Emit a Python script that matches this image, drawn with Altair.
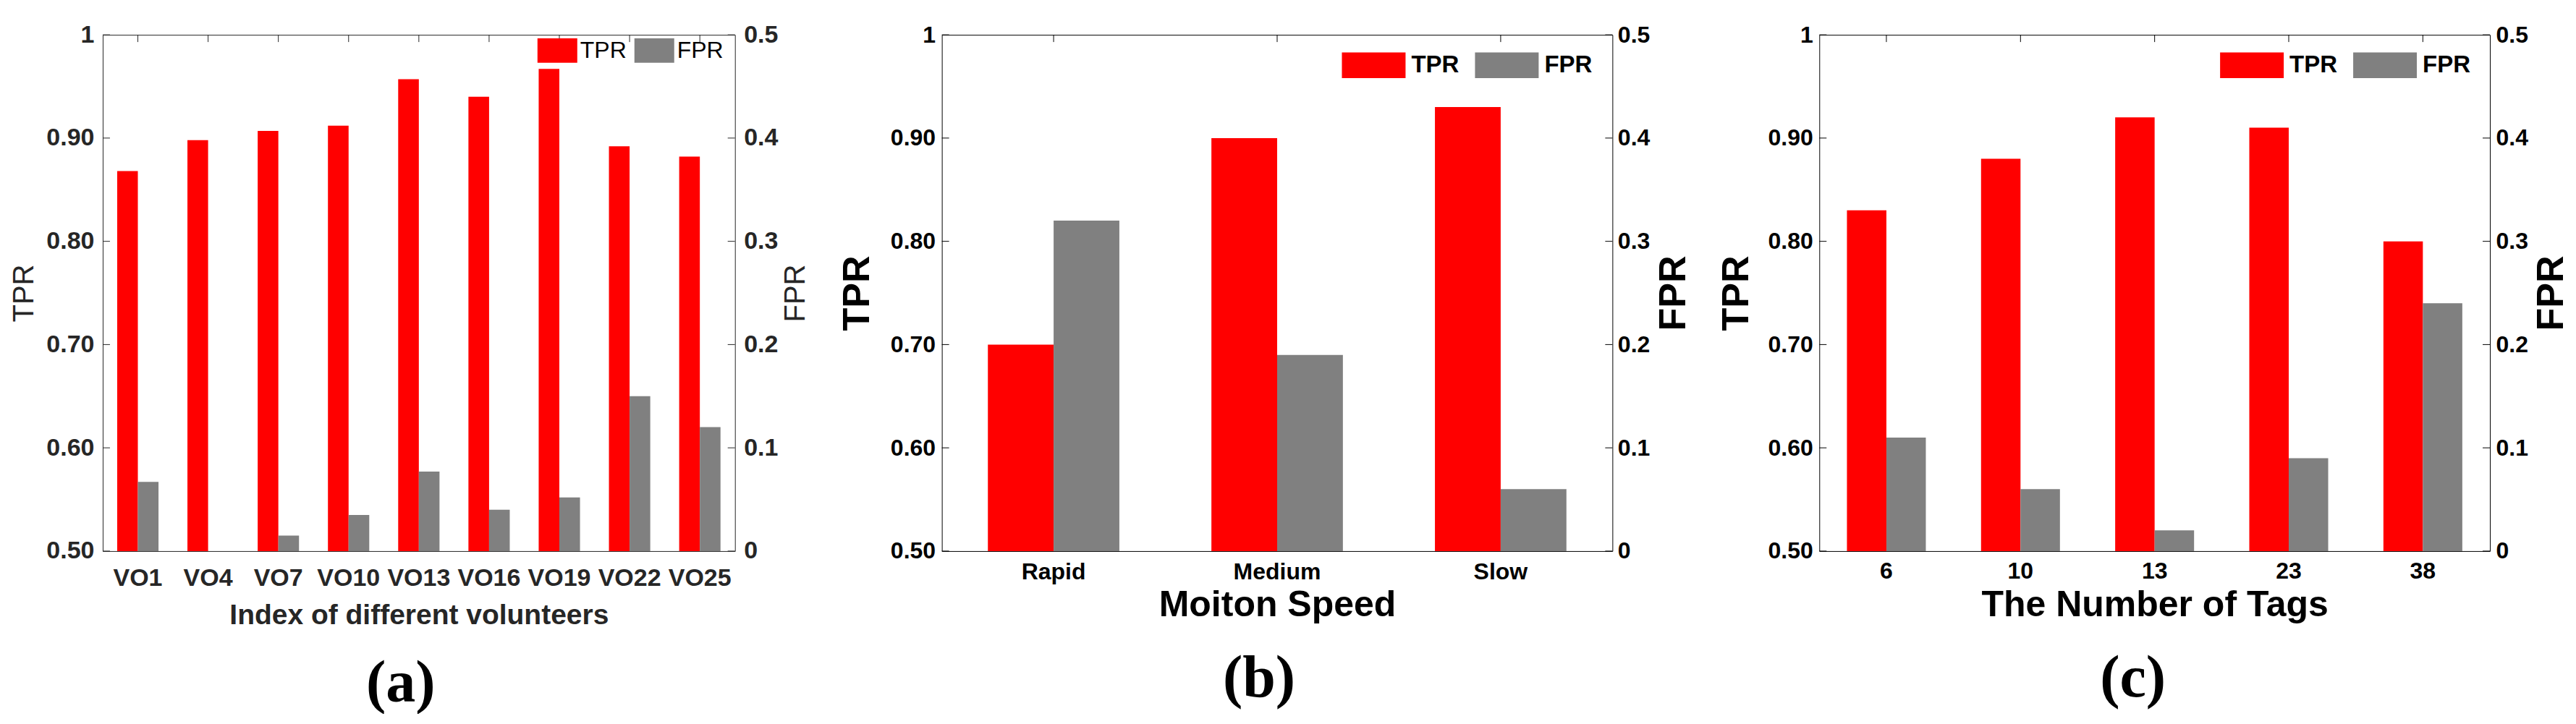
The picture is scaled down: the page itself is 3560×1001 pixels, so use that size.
import altair as alt
import pandas as pd

# ---------------- data ----------------
a_categories = ["VO1", "VO4", "VO7", "VO10", "VO13", "VO16", "VO19", "VO22", "VO25"]
a_tpr = [0.868, 0.898, 0.907, 0.912, 0.957, 0.940, 0.967, 0.892, 0.882]
a_fpr = [0.067, 0.0, 0.015, 0.035, 0.077, 0.040, 0.052, 0.150, 0.120]

b_categories = ["Rapid", "Medium", "Slow"]
b_tpr = [0.70, 0.90, 0.93]
b_fpr = [0.32, 0.19, 0.06]

c_categories = ["6", "10", "13", "23", "38"]
c_tpr = [0.83, 0.88, 0.92, 0.91, 0.80]
c_fpr = [0.11, 0.06, 0.02, 0.09, 0.24]

series_names = ["TPR", "FPR"]
series_colors = ["#FF0000", "#808080"]
tpr_ticks = [0.5, 0.6, 0.7, 0.8, 0.9, 1.0]
fpr_ticks = [0.0, 0.1, 0.2, 0.3, 0.4, 0.5]

FONT = "Liberation Sans"
SERIF = "Liberation Serif"
H = 714
TICK = 10


def make_panel(cats, tpr, fpr, st):
    W = st["width"]
    ink = st["ink"]
    tpr_df = pd.DataFrame({"cat": cats, "value": tpr, "series": ["TPR"] * len(cats)})
    fpr_df = pd.DataFrame({"cat": cats, "value": fpr, "series": ["FPR"] * len(cats)})

    x_enc = alt.X(
        "cat:N", sort=cats,
        scale=alt.Scale(domain=cats, paddingInner=0, paddingOuter=0),
        axis=alt.Axis(
            title=st["xtitle"], labelAngle=0, ticks=False, domain=False, grid=False,
            labelFont=FONT, labelFontSize=st["tick_size"], labelFontWeight="bold",
            labelColor=ink, labelPadding=st["xlab_pad"], labelOverlap=False,
            titleFont=FONT, titleFontSize=st["xtitle_size"], titleFontWeight="bold",
            titleColor=ink, titlePadding=st["xtitle_pad"],
        ),
    )
    xoff = alt.XOffset(
        "series:N",
        scale=alt.Scale(domain=series_names, paddingInner=0, paddingOuter=0.7),
    )
    color = alt.Color(
        "series:N",
        scale=alt.Scale(domain=series_names, range=series_colors),
        legend=alt.Legend(
            title=None, orient="none", legendX=st["leg_x"], legendY=st["leg_y"],
            direction="horizontal", padding=0,
            symbolType=st["leg_path"], symbolSize=st["leg_size"],
            symbolStrokeWidth=0, symbolOpacity=1,
            labelFont=FONT, labelFontSize=st["leg_font"], labelFontWeight=st["leg_weight"],
            labelColor="black", labelOffset=st["leg_off"], columnPadding=st["leg_col"],
        ),
    )
    y_tpr = alt.Y(
        "value:Q",
        scale=alt.Scale(domain=[0.5, 1.0], zero=False, nice=False),
        axis=alt.Axis(
            orient="left", values=tpr_ticks, grid=False, ticks=False, domain=False,
            labelExpr="datum.value == 1 ? '1' : format(datum.value, '.2f')",
            labelFont=FONT, labelFontSize=st["tick_size"], labelFontWeight="bold",
            labelColor=ink, labelPadding=st["ylab_pad"], labelFlush=False, labelOverlap=False,
            title="TPR", titleFont=FONT, titleFontSize=st["ytitle_size"],
            titleFontWeight=st["ytitle_weight"], titleColor=ink, titlePadding=st["ltitle_pad"],
        ),
    )
    y_fpr = alt.Y(
        "value:Q",
        scale=alt.Scale(domain=[0.0, 0.5], nice=False),
        axis=alt.Axis(
            orient="right", values=fpr_ticks, grid=False, ticks=False, domain=False,
            labelExpr="format(datum.value, '.1~f')",
            labelFont=FONT, labelFontSize=st["tick_size"], labelFontWeight="bold",
            labelColor=ink, labelPadding=st["rlab_pad"], labelFlush=False, labelOverlap=False,
            title="FPR", titleFont=FONT, titleFontSize=st["ytitle_size"],
            titleFontWeight=st["ytitle_weight"], titleColor=ink, titlePadding=st["rtitle_pad"],
            titleAngle=270, titleBaseline="top",
        ),
    )

    tpr_bars = alt.Chart(tpr_df).mark_bar().encode(
        x=x_enc, xOffset=xoff, y=y_tpr, y2=alt.datum(0.5), color=color
    )
    left_ticks = alt.Chart(pd.DataFrame({"value": tpr_ticks})).mark_rule(
        color=ink, strokeWidth=1
    ).encode(y=y_tpr, x=alt.value(0), x2=alt.value(TICK))
    top_ticks = alt.Chart(pd.DataFrame({"cat": cats})).mark_rule(
        color=ink, strokeWidth=1
    ).encode(x=x_enc, y=alt.value(0), y2=alt.value(TICK))

    fpr_bars = alt.Chart(fpr_df).mark_bar().encode(
        x=x_enc, xOffset=xoff, y=y_fpr, color=color
    )
    right_ticks = alt.Chart(pd.DataFrame({"value": fpr_ticks})).mark_rule(
        color=ink, strokeWidth=1
    ).encode(y=y_fpr, x=alt.value(W - TICK), x2=alt.value(W))

    left = alt.layer(tpr_bars, left_ticks, top_ticks)
    right = alt.layer(fpr_bars, right_ticks)
    return (
        alt.layer(left, right)
        .resolve_scale(y="independent")
        .resolve_axis(y="independent")
        .properties(
            width=W, height=H,
            view=alt.ViewBackground(stroke=ink, strokeWidth=1),
            title=alt.TitleParams(
                text=st["caption"], orient="bottom", anchor="middle", frame="group",
                offset=st["cap_off"], dx=st["cap_dx"], baseline="alphabetic",
                font=SERIF, fontSize=82, fontWeight="bold", color="black",
            ),
        )
    )


style_a = dict(
    width=874, ink="#262626", tick_size=34, xlab_pad=21,
    xtitle="Index of different volunteers", xtitle_size=39, xtitle_pad=15,
    ytitle_size=40, ytitle_weight="normal", ylab_pad=12, ltitle_pad=10,
    rlab_pad=12, rtitle_pad=5,
    leg_x=601, leg_y=-6, leg_path="M-1,-0.613H1V0.613H-1Z", leg_size=3025,
    leg_font=32, leg_weight="normal", leg_off=4, leg_col=11,
    caption="(a)", cap_off=99, cap_dx=-25,
)
style_b = dict(
    width=927, ink="black", tick_size=32, xlab_pad=14,
    xtitle="Moiton Speed", xtitle_size=50, xtitle_pad=5,
    ytitle_size=52, ytitle_weight="bold", ylab_pad=9, ltitle_pad=19,
    rlab_pad=7, rtitle_pad=8,
    leg_x=553, leg_y=-2, leg_path="M-1,-0.405H1V0.405H-1Z", leg_size=7744,
    leg_font=33, leg_weight="bold", leg_off=8, leg_col=22,
    caption="(b)", cap_off=101, cap_dx=-25,
)
style_c = dict(
    width=927, ink="black", tick_size=32, xlab_pad=13,
    xtitle="The Number of Tags", xtitle_size=50, xtitle_pad=6,
    ytitle_size=52, ytitle_weight="bold", ylab_pad=9, ltitle_pad=17,
    rlab_pad=8, rtitle_pad=7,
    leg_x=554, leg_y=-2, leg_path="M-1,-0.405H1V0.405H-1Z", leg_size=7744,
    leg_font=33, leg_weight="bold", leg_off=8, leg_col=22,
    caption="(c)", cap_off=101, cap_dx=-30,
)

pa = make_panel(a_categories, a_tpr, a_fpr, style_a)
pb = make_panel(b_categories, b_tpr, b_fpr, style_b)
pc = make_panel(c_categories, c_tpr, c_fpr, style_c)

chart = (
    alt.hconcat(pa, pb, pc, spacing=286, bounds="flush")
    .resolve_scale(color="independent", xOffset="independent")
    .resolve_legend(color="independent")
    .properties(padding={"left": 5, "top": 22, "right": 0, "bottom": 0})
    .configure(background="white")
)

chart.save("out.html", embed_options={"renderer": "svg", "actions": False})
